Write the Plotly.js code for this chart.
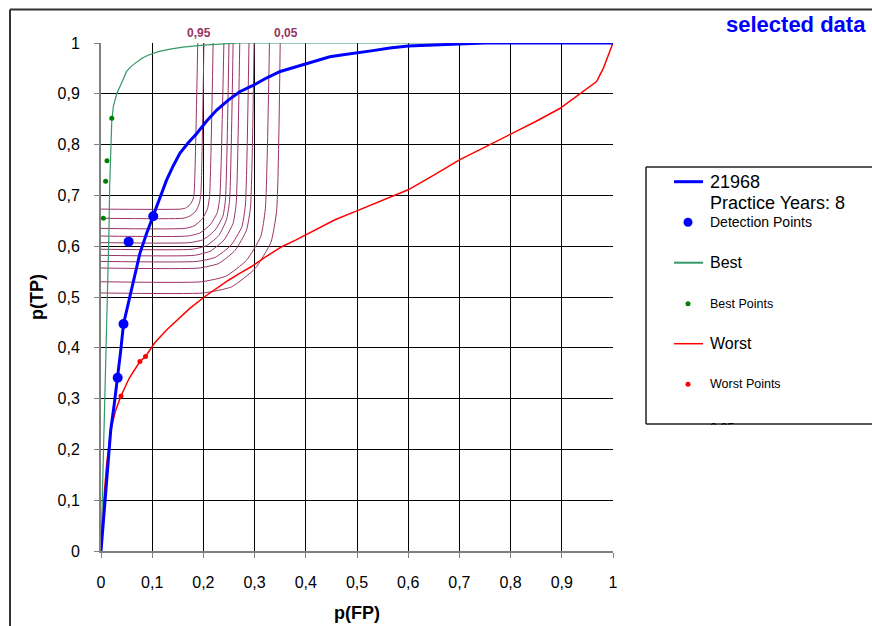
<!DOCTYPE html>
<html>
<head>
<meta charset="utf-8">
<script src="https://cdn.plot.ly/plotly-3.0.1.min.js"></script>
<style>html,body{margin:0;padding:0;background:#fff;overflow:hidden;}#chart{width:872px;height:626px;}</style>
</head>
<body>
<div id="chart"></div>
<script>
// ---- data ----
const tickVals = [0, 0.1, 0.2, 0.3, 0.4, 0.5, 0.6, 0.7, 0.8, 0.9, 1];
const tickText = ["0", "0,1", "0,2", "0,3", "0,4", "0,5", "0,6", "0,7", "0,8", "0,9", "1"];

const observerName = "21968";
const observerSub = "Practice Years: 8";
const blueX = [0,0.004,0.009,0.014,0.019,0.026,0.0326,0.038,0.044,0.054,0.063,0.076,0.089,0.102,0.115,0.128,0.141,0.154,0.170,0.187,0.206,0.226,0.248,0.271,0.298,0.323,0.350,0.376,0.402,0.425,0.447,0.473,0.499,0.531,0.564,0.600,0.650,0.700,0.750,0.800,0.900,1];
const blueY = [0,0.05,0.11,0.17,0.238,0.29,0.341,0.39,0.447,0.49,0.533,0.586,0.625,0.659,0.697,0.730,0.758,0.783,0.803,0.822,0.846,0.868,0.887,0.904,0.917,0.931,0.944,0.952,0.960,0.967,0.973,0.977,0.980,0.985,0.990,0.994,0.996,0.998,1,1,1,1];
const detX = [0.0326, 0.044, 0.054, 0.102];
const detY = [0.341, 0.447, 0.609, 0.659];

const bestX = [0,0.002,0.004,0.006,0.008,0.010,0.012,0.014,0.0156,0.017,0.019,0.021,0.024,0.031,0.040,0.050,0.060,0.070,0.080,0.092,0.112,0.135,0.160,0.200,0.240,0.270,0.400,1];
const bestY = [0,0.08,0.16,0.24,0.31,0.39,0.46,0.533,0.632,0.72,0.80,0.845,0.875,0.901,0.921,0.944,0.955,0.963,0.970,0.976,0.983,0.988,0.992,0.996,0.998,1,1,1];
const bestPtX = [0.0046, 0.009, 0.0117, 0.021];
const bestPtY = [0.655, 0.728, 0.768, 0.852];

const worstX = [0,0.003,0.007,0.011,0.015,0.019,0.028,0.039,0.055,0.068,0.076,0.087,0.105,0.128,0.150,0.174,0.203,0.225,0.249,0.270,0.294,0.320,0.353,0.380,0.405,0.430,0.457,0.496,0.550,0.600,0.650,0.700,0.750,0.800,0.850,0.896,0.936,0.968,0.981,0.991,1];
const worstY = [0,0.06,0.12,0.17,0.21,0.238,0.275,0.305,0.34,0.36,0.373,0.383,0.41,0.435,0.455,0.478,0.501,0.517,0.533,0.546,0.560,0.578,0.599,0.612,0.625,0.638,0.652,0.668,0.690,0.711,0.740,0.770,0.795,0.820,0.846,0.871,0.901,0.924,0.950,0.976,1];
const worstPtX = [0.039, 0.076, 0.087];
const worstPtY = [0.305, 0.373, 0.383];

const isoNames = ["0,95","0,9","0,8","0,7","0,6","0,5","0,4","0,3","0,2","0,1","0,05"];
const isoX = [
  [0,0.155,0.165,0.174,0.180,0.182,0.189],
  [0,0.160,0.173,0.185,0.192,0.195,0.201],
  [0,0.164,0.182,0.198,0.208,0.212,0.219],
  [0,0.169,0.193,0.213,0.227,0.232,0.240],
  [0,0.173,0.200,0.223,0.238,0.243,0.250],
  [0,0.178,0.206,0.230,0.245,0.251,0.258],
  [0,0.182,0.213,0.240,0.258,0.264,0.271],
  [0,0.187,0.223,0.254,0.275,0.282,0.289],
  [0,0.191,0.230,0.262,0.284,0.292,0.299],
  [0,0.196,0.244,0.284,0.312,0.321,0.329],
  [0,0.200,0.255,0.301,0.332,0.343,0.350]
];
const isoY = [
  [0.673,0.673,0.675,0.682,0.693,0.705,1],
  [0.655,0.655,0.659,0.669,0.684,0.702,1],
  [0.635,0.635,0.640,0.654,0.674,0.698,1],
  [0.620,0.620,0.626,0.642,0.666,0.695,1],
  [0.607,0.607,0.613,0.632,0.659,0.691,1],
  [0.594,0.594,0.601,0.621,0.652,0.688,1],
  [0.582,0.582,0.590,0.612,0.645,0.684,1],
  [0.570,0.570,0.578,0.602,0.638,0.681,1],
  [0.557,0.557,0.566,0.592,0.631,0.677,1],
  [0.530,0.530,0.541,0.572,0.619,0.674,1],
  [0.508,0.508,0.520,0.556,0.608,0.670,1]
];

// ---- styling ----
const BLUE = "#0000FF", GREEN = "#339966", DKGREEN = "#008000", RED = "#FF0000", ISO = "#993366";
const NARROW = "Liberation Sans Narrow, Arial Narrow, Liberation Sans, Arial, sans-serif";
const SANS = "Liberation Sans, Arial, sans-serif";

const traces = [];
isoNames.forEach((n, i) => {
  traces.push({x: isoX[i], y: isoY[i], name: n, type: "scatter", mode: "lines",
    line: {color: ISO, width: 1, shape: "spline", smoothing: 0.5}, hoverinfo: "skip"});
});
traces.push({x: worstX, y: worstY, name: "Worst", mode: "lines", line: {color: RED, width: 1.5}});
traces.push({x: bestX, y: bestY, name: "Best", mode: "lines", line: {color: GREEN, width: 1.2}});
traces.push({x: blueX, y: blueY, name: observerName, mode: "lines", line: {color: BLUE, width: 3}});
traces.push({x: detX, y: detY, name: "Detection Points", mode: "markers", marker: {color: BLUE, size: 10}});
traces.push({x: bestPtX, y: bestPtY, name: "Best Points", mode: "markers", marker: {color: DKGREEN, size: 5}});
traces.push({x: worstPtX, y: worstPtY, name: "Worst Points", mode: "markers", marker: {color: RED, size: 5}});

// pixel -> paper helpers (plot area 101..613 x 43..551)
const L = 101, R = 613, T = 43, B = 551;
const px = v => (v - L) / (R - L);
const py = v => (B - v) / (B - T);

const EDGE = 872; // right edge of the canvas: frame and legend box run off here
const shapes = [
  {type: "line", xref: "paper", yref: "paper", x0: px(10), x1: px(10), y0: py(626), y1: py(9.5),
   line: {color: "#333", width: 2}},
  {type: "line", xref: "paper", yref: "paper", x0: px(10), x1: px(EDGE), y0: py(9.5), y1: py(9.5),
   line: {color: "#333", width: 2}},
  {type: "line", xref: "paper", yref: "paper", x0: px(646), x1: px(646), y0: py(424), y1: py(167),
   line: {color: "#222", width: 1.5}},
  {type: "line", xref: "paper", yref: "paper", x0: px(646), x1: px(EDGE), y0: py(167), y1: py(167),
   line: {color: "#222", width: 1.5}},
  {type: "line", xref: "paper", yref: "paper", x0: px(646), x1: px(EDGE), y0: py(424), y1: py(424),
   line: {color: "#222", width: 1.5}}
];
const annotations = [
  {xref: "paper", yref: "paper", x: px(868), y: py(24), xanchor: "right", yanchor: "middle", showarrow: false,
   text: "selected data", font: {family: SANS, size: 22, color: BLUE, weight: "bold"}},
  {xref: "x", yref: "paper", x: isoX[0][6] + 0.002, y: py(33), xanchor: "center", yanchor: "middle", showarrow: false,
   text: isoNames[0], font: {family: SANS, size: 12, color: ISO, weight: "bold"}},
  {xref: "x", yref: "paper", x: isoX[10][6] + 0.011, y: py(33), xanchor: "center", yanchor: "middle", showarrow: false,
   text: isoNames[10], font: {family: SANS, size: 12, color: ISO, weight: "bold"}}
];

// manual legend
const lx0 = px(674), lx1 = px(703), mx = px(688), tx = px(708);
const legendItems = [
  {kind: "line", color: BLUE, width: 3, y: 181.7, text: observerName, size: 18},
  {kind: "none", y: 203.3, text: observerSub, size: 18},
  {kind: "marker", color: BLUE, r: 4.5, y: 222.3, text: "Detection Points", size: 14},
  {kind: "line", color: GREEN, width: 2, y: 262.7, text: "Best", size: 16},
  {kind: "marker", color: DKGREEN, r: 2.5, y: 303.7, text: "Best Points", size: 12.5},
  {kind: "line", color: RED, width: 1.5, y: 343.7, text: "Worst", size: 16},
  {kind: "marker", color: RED, r: 2.5, y: 384.3, text: "Worst Points", size: 12.5},
  {kind: "none", y: 428, text: isoNames[10], size: 12.5}
];
legendItems.forEach(it => {
  if (it.kind === "line") {
    shapes.push({type: "line", xref: "paper", yref: "paper", x0: lx0, x1: lx1, y0: py(it.y), y1: py(it.y),
      line: {color: it.color, width: it.width}});
  } else if (it.kind === "marker") {
    shapes.push({type: "circle", xref: "paper", yref: "paper", xsizemode: "pixel", ysizemode: "pixel",
      xanchor: mx, yanchor: py(it.y), x0: -it.r, x1: it.r, y0: -it.r, y1: it.r,
      fillcolor: it.color, line: {color: it.color, width: 0}});
  }
  annotations.push({xref: "paper", yref: "paper", x: tx, y: py(it.y), xanchor: "left", yanchor: "middle",
    showarrow: false, text: it.text, font: {family: SANS, size: it.size, color: "#000"}});
});
// legend is cut off at its bottom edge: mask the part of the last entry below the border
annotations.push({xref: "paper", yref: "paper", x: px(650), y: py(425), xanchor: "left", yanchor: "top",
  showarrow: false, text: " ", width: 200, height: 20, bgcolor: "#fff", borderpad: 0, borderwidth: 0});

const axisCommon = {
  range: [0, 1], tickvals: tickVals, ticktext: tickText, showgrid: true, gridcolor: "#000", gridwidth: 1,
  zeroline: false, showline: true, linecolor: "#808080", linewidth: 2, ticks: "outside", ticklen: 5,
  tickcolor: "#808080", tickwidth: 1, tickfont: {family: NARROW, size: 16, color: "#000"}, fixedrange: true
};

const layout = {
  width: 872, height: 626, margin: {l: L, r: 872 - R, t: T, b: 626 - B, pad: 0},
  paper_bgcolor: "#fff", plot_bgcolor: "#fff", showlegend: false, separators: ", ",
  xaxis: Object.assign({}, axisCommon, {ticklabelstandoff: 11,
    title: {text: "p(FP)", font: {family: NARROW, size: 18, color: "#000", weight: "bold"}, standoff: 16}}),
  yaxis: Object.assign({}, axisCommon, {ticklabelstandoff: 11,
    title: {text: "p(TP)", font: {family: NARROW, size: 18, color: "#000", weight: "bold"}, standoff: 9}}),
  shapes: shapes, annotations: annotations
};

Plotly.newPlot("chart", traces, layout, {staticPlot: true, displayModeBar: false});
</script>
</body>
</html>
